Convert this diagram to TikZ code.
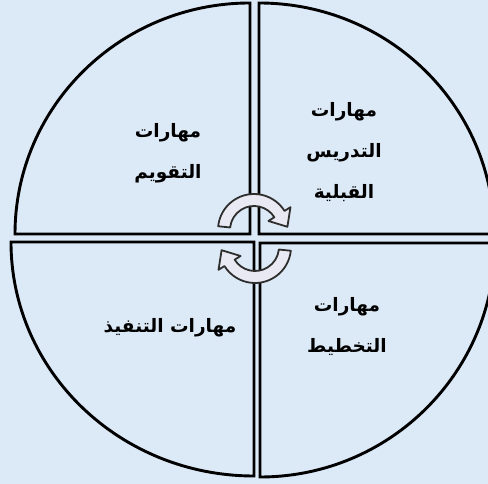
\documentclass[tikz,border=0pt]{standalone}
\usepackage{fontspec}
\TeXXeTstate=1
\newfontfamily\arabicfont[Script=Arabic]{DejaVu Sans}
\definecolor{bgblue}{HTML}{DCE9F6}
\definecolor{arrowfill}{HTML}{E9E9F3}
\definecolor{arrowline}{HTML}{2E2E2E}
\tikzset{
  quad/.style={draw=black, line width=2.9pt, line join=miter},
  turnarrow/.style={draw=arrowline, fill=arrowfill, line width=1.8pt, line join=round},
  label/.style={font=\arabicfont\bfseries\fontsize{18.5}{41}\selectfont, align=center, inner sep=0pt}
}
\begin{document}
\begin{tikzpicture}[x=1pt,y=1pt]
\useasboundingbox (0,0) rectangle (488,484);
\clip (0,0) rectangle (488,484);
\fill[bgblue] (0,0) rectangle (488,484);
% quadrants
\draw[quad] (250,250) -- (15,250) arc[start angle=180,end angle=90,x radius=235pt,y radius=231pt] -- cycle;
\draw[quad] (259,250) -- (259,481) arc[start angle=90,end angle=0,x radius=235pt,y radius=231pt] -- cycle;
\draw[quad] (254,242) -- (11,242) arc[start angle=180,end angle=270,x radius=243pt,y radius=234pt] -- cycle;
\draw[quad] (260,241) -- (260,7) arc[start angle=270,end angle=360,x radius=235pt,y radius=234pt] -- cycle;
% texts
\node[label] (tl) at (168,331) {\beginR مهارات\endR\\\beginR التقويم\endR};
\node[label] (tr) at (344,332) {\beginR مهارات\endR\\\beginR التدريس\endR\\\beginR القبلية\endR};
\node[label] (bl) at (170,156) {\beginR مهارات التنفيذ\endR};
\node[label] (br) at (347,157) {\beginR مهارات\endR\\\beginR التخطيط\endR};
% upper circular arrow
\begin{scope}[shift={(254,254)}]
\coordinate (uc) at (0,0);
\draw[turnarrow] (174:36) arc[start angle=174,end angle=32,radius=36pt]
  -- (32:43) -- (33.4,3.2) -- (32:17) -- (32:24)
  arc[start angle=32,end angle=174,radius=24pt] -- cycle;
\end{scope}
% lower circular arrow
\begin{scope}[shift={(255,237)}]
\coordinate (lc) at (0,0);
\draw[turnarrow] (354:36) arc[start angle=354,end angle=212,radius=36pt]
  -- (212:43) -- (-33.4,-3.2) -- (212:17) -- (212:24)
  arc[start angle=212,end angle=354,radius=24pt] -- cycle;
\end{scope}
\end{tikzpicture}
\end{document}
